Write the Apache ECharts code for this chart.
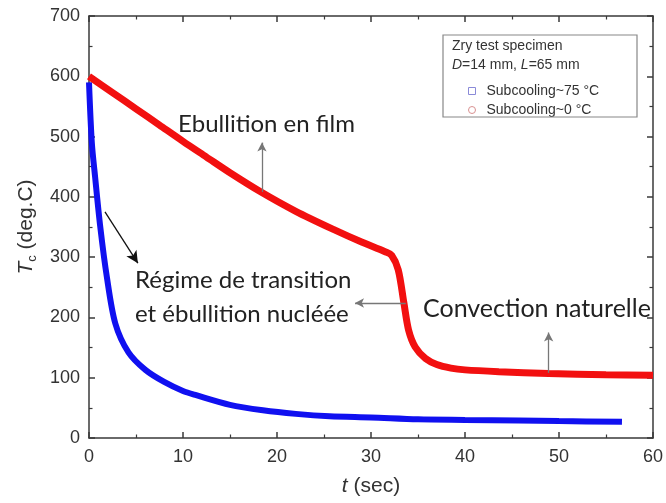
<!DOCTYPE html>
<html><head><meta charset="utf-8">
<script src="https://cdn.jsdelivr.net/npm/echarts@6/dist/echarts.min.js"></script>
<style>html,body{margin:0;padding:0;background:#fff}#c{width:666px;height:503px}</style>
</head><body><div id="c"></div>
<script>
// Data
const blueName = 'Subcooling~75 °C';
const redName = 'Subcooling~0 °C';
const blueT = [0,0.3,0.65,1.2,1.9,2.8,4.2,6,8,10,11.4,15,18.5,22,25.6,30,35,40,45.7,50,56.7];
const blueV = [590,490,433,350,267,190,142,113,93,78,71,55,46,40,36,34,31,30,29,28,27];
const redT = [0,2.5,5,7.5,10,12.5,15,18.3,22,26,29,31.5,32.2,32.9,33.5,34,34.7,35.8,37,38.5,40,43.6,48.9,55,60];
const redV = [600,573,546,519,492,466,440,408,376,346,325,309,303,279,224,179,151,132,122,116,113,110,107,105,104];
const xTicks = [0,10,20,30,40,50,60];
const yTicks = [0,100,200,300,400,500,600,700];

const chart = echarts.init(document.getElementById('c'), null, {renderer:'canvas'});
const axisCol = '#3a3a3a';
const labFont = {fontFamily:'Liberation Sans', fontSize:18, color:'#333'};
const baseAxis = {
  axisLine:{show:true, onZero:false, lineStyle:{color:axisCol, width:1.5}},
  axisTick:{show:true, inside:true, length:6, lineStyle:{color:axisCol, width:1.5}},
  minorTick:{show:true, splitNumber:2, length:3.5, lineStyle:{color:axisCol, width:1.2}},
  splitLine:{show:false}
};
chart.setOption({
  animation:false,
  grid:{left:89, right:11, top:16, bottom:65},
  xAxis:[
    Object.assign({type:'value', min:xTicks[0], max:xTicks[xTicks.length-1], interval:10, position:'bottom',
      name:'{i|t} (sec)', nameLocation:'middle', nameGap:38,
      nameTextStyle:{fontFamily:'Liberation Sans', fontSize:21, color:'#333', rich:{i:{fontStyle:'italic', fontFamily:'Liberation Sans', fontSize:21, color:'#333'}}},
      axisLabel:Object.assign({margin:10}, labFont)}, baseAxis),
    Object.assign({type:'value', min:0, max:60, interval:10, position:'top', axisLabel:{show:false}}, baseAxis)
  ],
  yAxis:[
    Object.assign({type:'value', min:yTicks[0], max:yTicks[yTicks.length-1], interval:100, position:'left',
      name:'{i|T}{s|c} (deg.C)', nameLocation:'middle', nameGap:46, nameRotate:90,
      nameTextStyle:{fontFamily:'Liberation Sans', fontSize:21, color:'#333',
        rich:{i:{fontStyle:'italic', fontFamily:'Liberation Sans', fontSize:21, color:'#333'},
              s:{fontFamily:'Liberation Sans', fontSize:13, color:'#333', verticalAlign:'bottom', padding:[12,0,0,0]}}},
      axisLabel:Object.assign({margin:9}, labFont)}, baseAxis),
    Object.assign({type:'value', min:0, max:700, interval:100, position:'right', axisLabel:{show:false}}, baseAxis)
  ],
  legend:{
    orient:'vertical', left:463, top:79, itemGap:5, itemWidth:7, itemHeight:7,
    textStyle:{fontFamily:'Liberation Sans', fontSize:14, color:'#333', padding:[0,0,0,6]},
    data:[
      {name:blueName, icon:'rect', itemStyle:{color:'#fff', borderColor:'#8a8ad8', borderWidth:1}},
      {name:redName, icon:'circle', itemStyle:{color:'#fff', borderColor:'#d89090', borderWidth:1}}
    ]
  },
  series:[
    {name:redName, type:'line', data:redT.map((t,i)=>[t,redV[i]]), smooth:0.3,
     showSymbol:false, symbol:'circle', lineStyle:{color:'#f21010', width:7}, itemStyle:{color:'#f21010'}, z:3,
     markLine:{silent:true, symbol:['none','arrow'], symbolSize:[7,9], label:{show:false},
       lineStyle:{color:'#777', width:1.3, type:'solid'},
       data:[
         [{coord:[18.4,408]},{coord:[18.4,490]}],
         [{coord:[33.7,224]},{coord:[28.3,224]}],
         [{coord:[48.9,108]},{coord:[48.9,175]}]
       ]}},
    {name:blueName, type:'line', data:blueT.map((t,i)=>[t,blueV[i]]), smooth:0.3,
     showSymbol:false, symbol:'rect', lineStyle:{color:'#1010f0', width:6}, itemStyle:{color:'#1010f0'}, z:2,
     markLine:{silent:true, symbol:['none','arrow'], symbolSize:[9,12], label:{show:false},
       lineStyle:{color:'#111', width:1.3, type:'solid'},
       data:[[{coord:[1.7,375]},{coord:[5.2,290]}]]}}
  ],
  graphic:[
    {type:'rect', shape:{x:443, y:35, width:194, height:82}, style:{fill:'none', stroke:'#888', lineWidth:1.2}, z:10},
    {type:'text', x:452, y:39, style:{text:'Zry test specimen', font:'14px "Liberation Sans"', fill:'#333'}, z:10},
    {type:'text', x:452, y:58, style:{text:'{i|D}=14 mm, {i|L}=65 mm', font:'14px "Liberation Sans"', fill:'#333',
      rich:{i:{fontStyle:'italic', fontFamily:'Liberation Sans', fontSize:14, fill:'#333'}}}, z:10},
    {type:'text', x:178, y:112, style:{text:'Ebullition en film', font:'24px Lato', fill:'#222'}, z:10},
    {type:'text', x:135, y:268, style:{text:'Régime de transition', font:'24px Lato', fill:'#222'}, z:10},
    {type:'text', x:135, y:302, style:{text:'et ébullition nucléée', font:'24px Lato', fill:'#222'}, z:10},
    {type:'text', x:423, y:296, style:{text:'Convection naturelle', font:'25px Lato', fill:'#222'}, z:10}
  ]
});
</script></body></html>
